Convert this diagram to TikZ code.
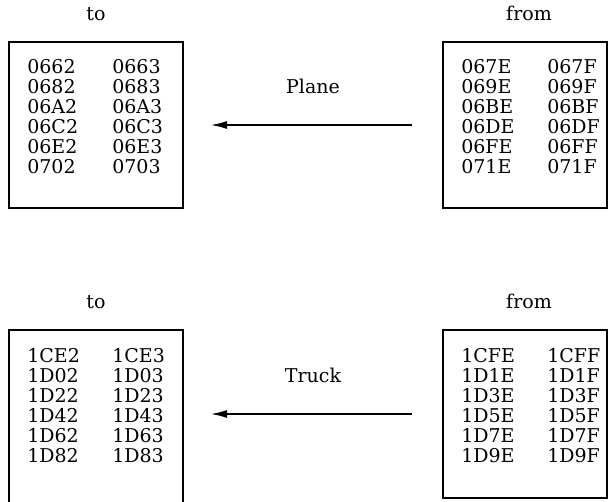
\documentclass[tikz,border=0pt]{standalone}
\usepackage{fontspec}
\setmainfont{DejaVu Serif}
\usetikzlibrary{positioning, arrows.meta}

\begin{document}
\begin{tikzpicture}[x=0.5pt, y=-0.5pt, >={Latex[length=8pt, width=4pt]}]
            \tikzset{
              membox/.style={draw, line width=1.1pt, inner sep=0pt, minimum height=83pt},
              addrs/.style={inner sep=0pt, font=\fontsize{9.5}{10}\selectfont},
              caption/.style={font=\fontsize{9.5}{13}\selectfont},
            }
            \useasboundingbox (0,0) rectangle (609,502);
            % ==== PLANE ====
            \node[membox, minimum width=87pt] (toA) at (96,125) {};
            \node[membox, minimum width=82pt] (fromA) at (525,125) {};
            \node[caption, above=6.5pt of toA] (toAcap) {to};
            \node[caption, above=6.5pt of fromA, xshift=2pt] (fromAcap) {from};
            \node[addrs, below right=9pt and 9.5pt of toA.north west] (toAtab)
                {\begin{tabular}{@{}p{42.5pt}@{}l@{}}
                  0662 & 0663\\ 0682 & 0683\\ 06A2 & 06A3\\
                  06C2 & 06C3\\ 06E2 & 06E3\\ 0702 & 0703
                 \end{tabular}};
            \node[addrs, below right=9pt and 9.5pt of fromA.north west] (fromAtab)
                {\begin{tabular}{@{}p{43pt}@{}l@{}}
                  067E & 067F\\ 069E & 069F\\ 06BE & 06BF\\
                  06DE & 06DF\\ 06FE & 06FF\\ 071E & 071F
                 \end{tabular}};
            \draw[->, line width=0.6pt, shorten <=15pt, shorten >=13.5pt]
                (fromA.west) -- (toA.east) node[caption, midway, above=12pt] (planecap) {Plane};

            % ==== TRUCK ====
            \node[membox, minimum width=87pt, minimum height=88pt] (toB) at (96,418) {};
            \node[membox, minimum width=82pt, minimum height=84pt] (fromB) at (525,414) {};
            \node[caption, above=6.5pt of toB] (toBcap) {to};
            \node[caption, above=6.5pt of fromB, xshift=2pt] (fromBcap) {from};
            \node[addrs, below right=9.5pt and 9.5pt of toB.north west] (toBtab)
                {\begin{tabular}{@{}p{42.5pt}@{}l@{}}
                  1CE2 & 1CE3\\ 1D02 & 1D03\\ 1D22 & 1D23\\
                  1D42 & 1D43\\ 1D62 & 1D63\\ 1D82 & 1D83
                 \end{tabular}};
            \node[addrs, below right=9.5pt and 9.5pt of fromB.north west] (fromBtab)
                {\begin{tabular}{@{}p{43pt}@{}l@{}}
                  1CFE & 1CFF\\ 1D1E & 1D1F\\ 1D3E & 1D3F\\
                  1D5E & 1D5F\\ 1D7E & 1D7F\\ 1D9E & 1D9F
                 \end{tabular}};
            \draw[->, line width=0.6pt, shorten <=15pt, shorten >=13.5pt]
                (fromB.west) -- (toB.east |- fromB.west) node[caption, midway, above=12pt] (truckcap) {Truck};
\end{tikzpicture}
\end{document}
